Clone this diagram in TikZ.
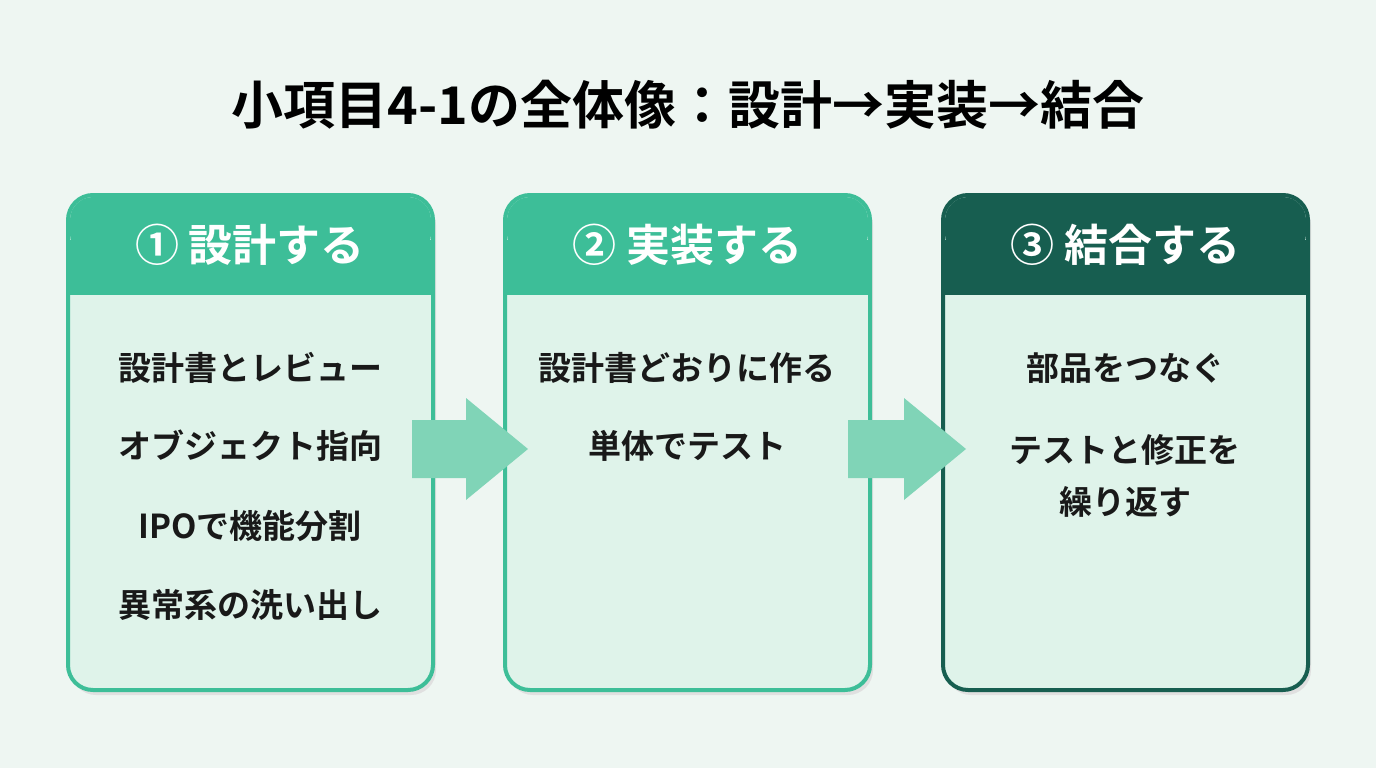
\documentclass[tikz,border=0pt]{standalone}
\usepackage{fontspec}
\setmainfont{Noto Sans CJK JP}[BoldFont={Noto Sans CJK JP Bold}]
\definecolor{bg}{HTML}{EEF6F2}
\definecolor{hd}{HTML}{3DBE98}
\definecolor{hdd}{HTML}{175E50}
\definecolor{bd}{HTML}{DFF3EA}
\definecolor{ar}{HTML}{80D4B7}
\begin{document}
\begin{tikzpicture}[x=1pt,y=-1pt,
 body/.style={font=\bfseries\fontsize{33}{52}\selectfont,text=black!90,align=center},
 head/.style={font=\bfseries\fontsize{44}{48}\selectfont,text=white},
 arr/.style={fill=ar,draw=none}]
\fill[bg] (0,0) rectangle (1376,768);
\node[font=\bfseries\fontsize{52}{58}\selectfont] (title) at (688,105) {小項目4-1の全体像：設計→実装→結合};
\foreach \x/\c/\n in {68/hd/a,505/hd/b,943/hdd/c}{
 \fill[black!12,rounded corners=25] (\x+3,200) rectangle ++(365,495);
 \draw[\c,line width=4,fill=bd,rounded corners=25] (\x,195) rectangle ++(365,495);
 \fill[\c,rounded corners=23] (\x+2,197) rectangle ++(361,60);
 \fill[\c] (\x+2,240) rectangle ++(361,55);
}
\node[head] (ha) at (250,245) {① 設計する};
\node[head] (hb) at (687,245) {② 実装する};
\node[head] (hc) at (1125,245) {③ 結合する};
\node[body] (a1) at (250,368) {設計書とレビュー};
\node[body] (a2) at (250,446) {オブジェクト指向};
\node[body] (a3) at (250,526) {IPOで機能分割};
\node[body] (a4) at (250,605) {異常系の洗い出し};
\node[body] (b1) at (687,368) {設計書どおりに作る};
\node[body] (b2) at (687,446) {単体でテスト};
\node[body] (c1) at (1125,368) {部品をつなぐ};
\node[body] (c2) at (1125,476) {テストと修正を\\繰り返す};
\fill[arr] (412,420) -- (466,420) -- (466,398) -- (528,449) -- (466,500) -- (466,478) -- (412,478) -- cycle;
\fill[arr] (848,420) -- (904,420) -- (904,398) -- (966,449) -- (904,500) -- (904,478) -- (848,478) -- cycle;
\end{tikzpicture}
\end{document}
